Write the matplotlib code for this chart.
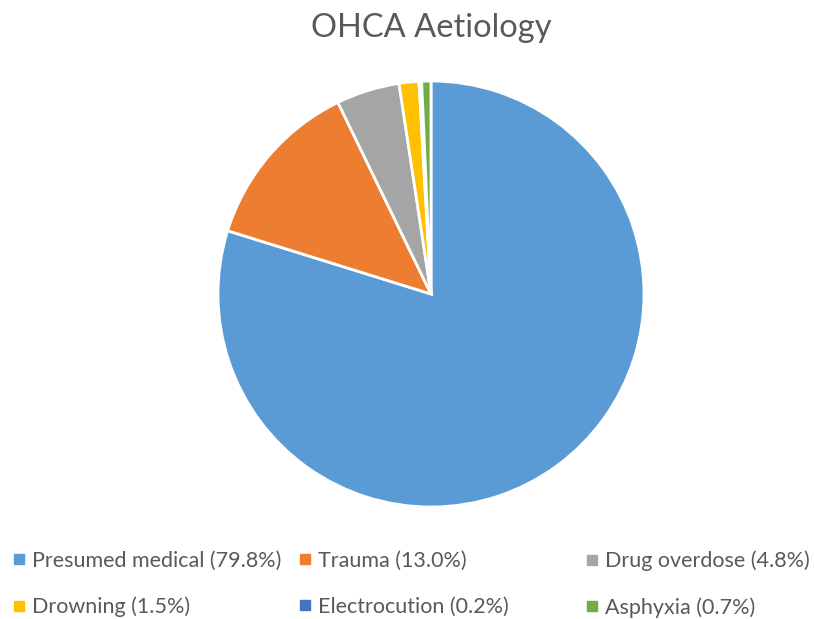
import matplotlib.pyplot as plt
from matplotlib.lines import Line2D

categories = ["Presumed medical", "Trauma", "Drug overdose", "Drowning", "Electrocution", "Asphyxia"]
values = [79.8, 13.0, 4.8, 1.5, 0.2, 0.7]
colors = ["#5B9BD5", "#ED7D31", "#A5A5A5", "#FFC000", "#4472C4", "#70AD47"]

plt.rcParams["font.family"] = ["Lato", "DejaVu Sans"]

fig = plt.figure(figsize=(8.14, 6.19), dpi=100)
ax = fig.add_axes([(431 - 213) / 814, (325 - 213) / 619, 426 / 814, 426 / 619])
ax.pie(
    values,
    colors=colors,
    startangle=90,
    counterclock=False,
    wedgeprops=dict(edgecolor="white", linewidth=2),
)
ax.set_xlim(-1, 1)
ax.set_ylim(-1, 1)
ax.set_aspect("equal")

fig.text(431 / 814, 1 - 28 / 619, "OHCA Aetiology", ha="center", va="center",
         fontsize=23.5, color="#595959")

# legend in three equal-width columns, filled row by row
labels = [f"{c} ({v:.1f}%)" for c, v in zip(categories, values)]
handles = [
    Line2D([], [], marker="s", linestyle="none", markersize=6.5, color=col)
    for col in colors
]
col_x = [5, 291, 578]
for i, x in enumerate(col_x):
    idx = [i, i + 3]
    fig.legend(
        [handles[j] for j in idx],
        [labels[j] for j in idx],
        loc="upper left",
        bbox_to_anchor=(x / 814, 1 - 542 / 619),
        frameon=False,
        fontsize=15.5,
        labelcolor="#595959",
        handlelength=0.5,
        handletextpad=0.35,
        labelspacing=1.2,
        borderaxespad=0,
    )

fig.savefig("out.png", dpi=100)
